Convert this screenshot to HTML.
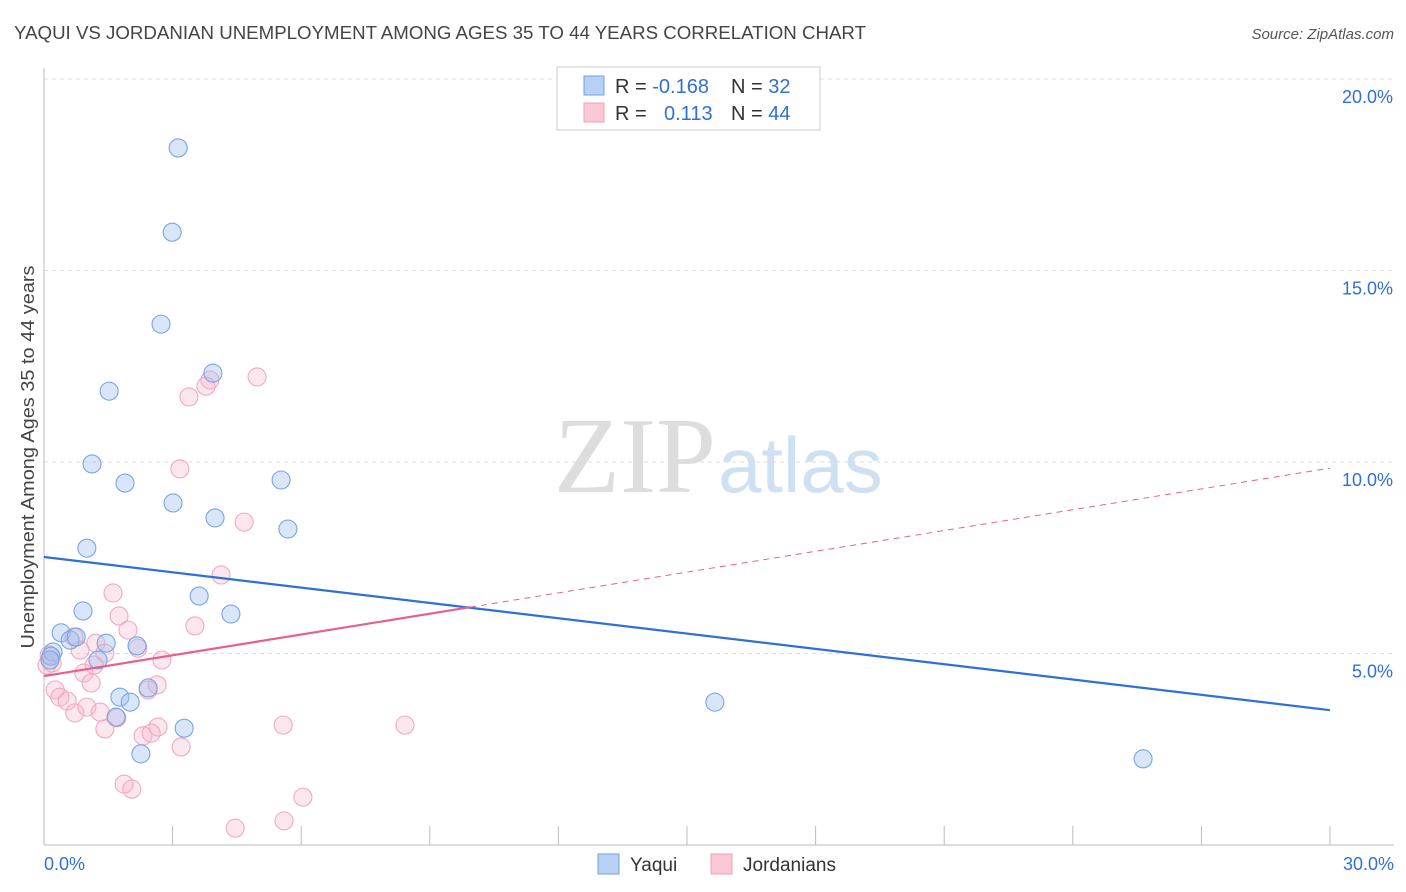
<!DOCTYPE html>
<html><head><meta charset="utf-8"><style>
body{margin:0;background:#fff;font-family:"Liberation Sans",sans-serif}
svg{display:block}
</style></head><body>
<svg width="1406" height="892" viewBox="0 0 1406 892">
<text x="14" y="39" font-size="18" fill="#444" textLength="852" lengthAdjust="spacingAndGlyphs">YAQUI VS JORDANIAN UNEMPLOYMENT AMONG AGES 35 TO 44 YEARS CORRELATION CHART</text>
<text x="1394" y="39" font-size="15" fill="#555" text-anchor="end" font-style="italic">Source: ZipAtlas.com</text>
<text x="0" y="0" transform="translate(34,457) rotate(-90)" font-size="18" fill="#444" text-anchor="middle" textLength="383" lengthAdjust="spacingAndGlyphs">Unemployment Among Ages 35 to 44 years</text>
<g id="grid"></g>
<text x="716" y="492" font-size="108" fill="#ddd" text-anchor="end" font-family="Liberation Serif,serif">ZIP</text>
<text x="718" y="492" font-size="78" fill="#cfe0f3">atlas</text>
<g id="pts"></g>
<g id="lines"></g>
<g>
<rect x="557" y="67" width="263" height="63" fill="#fff" stroke="#ccc"/>
<rect x="584" y="76" width="20" height="19" fill="#b8d0f5" stroke="#6fa0e0"/>
<rect x="584" y="103" width="20" height="19" fill="#fbc8d6" stroke="#f0a0b8"/>
<text font-size="20" fill="#333"><tspan x="615" y="93">R = </tspan><tspan fill="#2f6fd8">-0.168</tspan><tspan x="731">N = </tspan><tspan fill="#2f6fd8">32</tspan></text>
<text font-size="20" fill="#333"><tspan x="615" y="120">R = </tspan><tspan x="664" fill="#2f6fd8">0.113</tspan><tspan x="731">N = </tspan><tspan fill="#2f6fd8">44</tspan></text>
</g>
<g>
<rect x="598" y="854" width="21" height="20" fill="#b8d0f5" stroke="#6fa0e0"/>
<text x="630" y="871" font-size="19" fill="#333">Yaqui</text>
<rect x="711" y="854" width="21" height="20" fill="#fbc8d6" stroke="#f0a0b8"/>
<text x="743" y="871" font-size="19" fill="#333">Jordanians</text>
</g>
</svg>
<script>
const xTicks=[0,3,6,9,12,15,18,21,24,27,30];
const yTicks=[5,10,15,20];
const yTickLabels=["5.0%","10.0%","15.0%","20.0%"];
const yaquiX=[3.13,2.99,2.73,3.94,1.52,1.12,1.89,5.53,3.01,3.99,5.69,1.00,3.62,4.36,0.91,0.40,0.61,0.75,1.45,2.17,0.21,0.16,1.26,1.77,2.01,2.43,1.68,3.27,2.26,15.65,25.64,0.14];
const yaquiY=[18.2,16.0,13.6,12.32,11.85,9.95,9.45,9.53,8.93,8.54,8.25,7.75,6.50,6.03,6.11,5.54,5.35,5.43,5.27,5.20,5.04,4.93,4.83,3.86,3.73,4.10,3.34,3.05,2.38,3.73,2.25,4.83];
const jordX=[4.97,3.87,3.78,3.38,3.17,4.67,4.13,1.61,1.75,1.96,3.52,1.21,0.84,0.70,1.42,0.12,0.07,2.75,2.19,0.93,1.10,0.26,0.37,0.54,0.72,1.00,1.31,1.70,1.42,2.31,2.50,2.66,2.64,2.43,3.20,5.58,8.42,1.87,2.05,6.04,4.46,5.60,0.19,1.17];
const jordY=[12.22,12.14,11.98,11.70,9.82,8.43,7.05,6.58,5.98,5.61,5.72,5.27,5.09,5.43,5.01,4.96,4.70,4.83,5.14,4.49,4.23,4.05,3.86,3.76,3.45,3.60,3.47,3.32,3.03,2.85,2.92,3.08,4.18,4.05,2.56,3.13,3.13,1.59,1.46,1.25,0.44,0.63,4.75,4.70];
const yaquiTrend=[7.52,3.52];   // values at x=0 and x=30
const jordTrend=[4.41,9.84];    // values at x=0 and x=30
const jordSolidEnd=9.94;
const NS="http://www.w3.org/2000/svg";
const sx=v=>44+v/30*1286, sy=v=>845-v/5*191.5;
function mk(t,a,p){const e=document.createElementNS(NS,t);for(const k in a)e.setAttribute(k,a[k]);p.appendChild(e);return e;}
const grid=document.getElementById('grid');
yTicks.forEach((t,i)=>{
 const l=mk('line',{x1:44,x2:1394,y1:sy(t),y2:sy(t),stroke:'#ddd','stroke-dasharray':'4,4'},grid);
 
 
 const tx=mk('text',{x:1393,y:sy(t)+24,'font-size':18,fill:'#2f6fd8','text-anchor':'end'},grid);
 tx.textContent=yTickLabels[i];
 
 
});
const ax=mk('line',{x1:44,x2:44,y1:68,y2:845,stroke:'#bbb'},grid);


const bx=mk('line',{x1:44,x2:1394,y1:845,y2:845,stroke:'#bbb'},grid);


xTicks.forEach(t=>{
 const l=mk('line',{x1:sx(t),x2:sx(t),y1:826,y2:845,stroke:'#bbb'},grid);
 
 
});
const xl0=mk('text',{x:44,y:870,'font-size':18,fill:'#2f6fd8'},grid);xl0.textContent=xTicks[0].toFixed(1)+'%';


const xl1=mk('text',{x:1394,y:870,'font-size':18,fill:'#2f6fd8','text-anchor':'end'},grid);xl1.textContent=xTicks[xTicks.length-1].toFixed(1)+'%';


const pts=document.getElementById('pts');
jordX.forEach((x,i)=>{
 const c=mk('circle',{cx:sx(x),cy:sy(jordY[i]),r:9,fill:'rgba(248,175,198,0.3)',stroke:'#f2a8bf','stroke-width':1.1},pts);
 
 
});
yaquiX.forEach((x,i)=>{
 const c=mk('circle',{cx:sx(x),cy:sy(yaquiY[i]),r:9,fill:'rgba(160,192,240,0.4)',stroke:'#78a5e2','stroke-width':1.1},pts);
 
 
});
const L=document.getElementById('lines');
const by=mk('line',{x1:sx(0),y1:sy(yaquiTrend[0]),x2:sx(30),y2:sy(yaquiTrend[1]),stroke:'#2f6fd8','stroke-width':2.2},L);


const jAt=x=>jordTrend[0]+(jordTrend[1]-jordTrend[0])*x/30;
const js=mk('line',{x1:sx(0),y1:sy(jAt(0)),x2:sx(jordSolidEnd),y2:sy(jAt(jordSolidEnd)),stroke:'#e8608a','stroke-width':2.2},L);


const jd=mk('line',{x1:sx(jordSolidEnd),y1:sy(jAt(jordSolidEnd)),x2:sx(30),y2:sy(jAt(30)),stroke:'#e8608a','stroke-width':1,'stroke-dasharray':'6,5'},L);


</script>
</body></html>
